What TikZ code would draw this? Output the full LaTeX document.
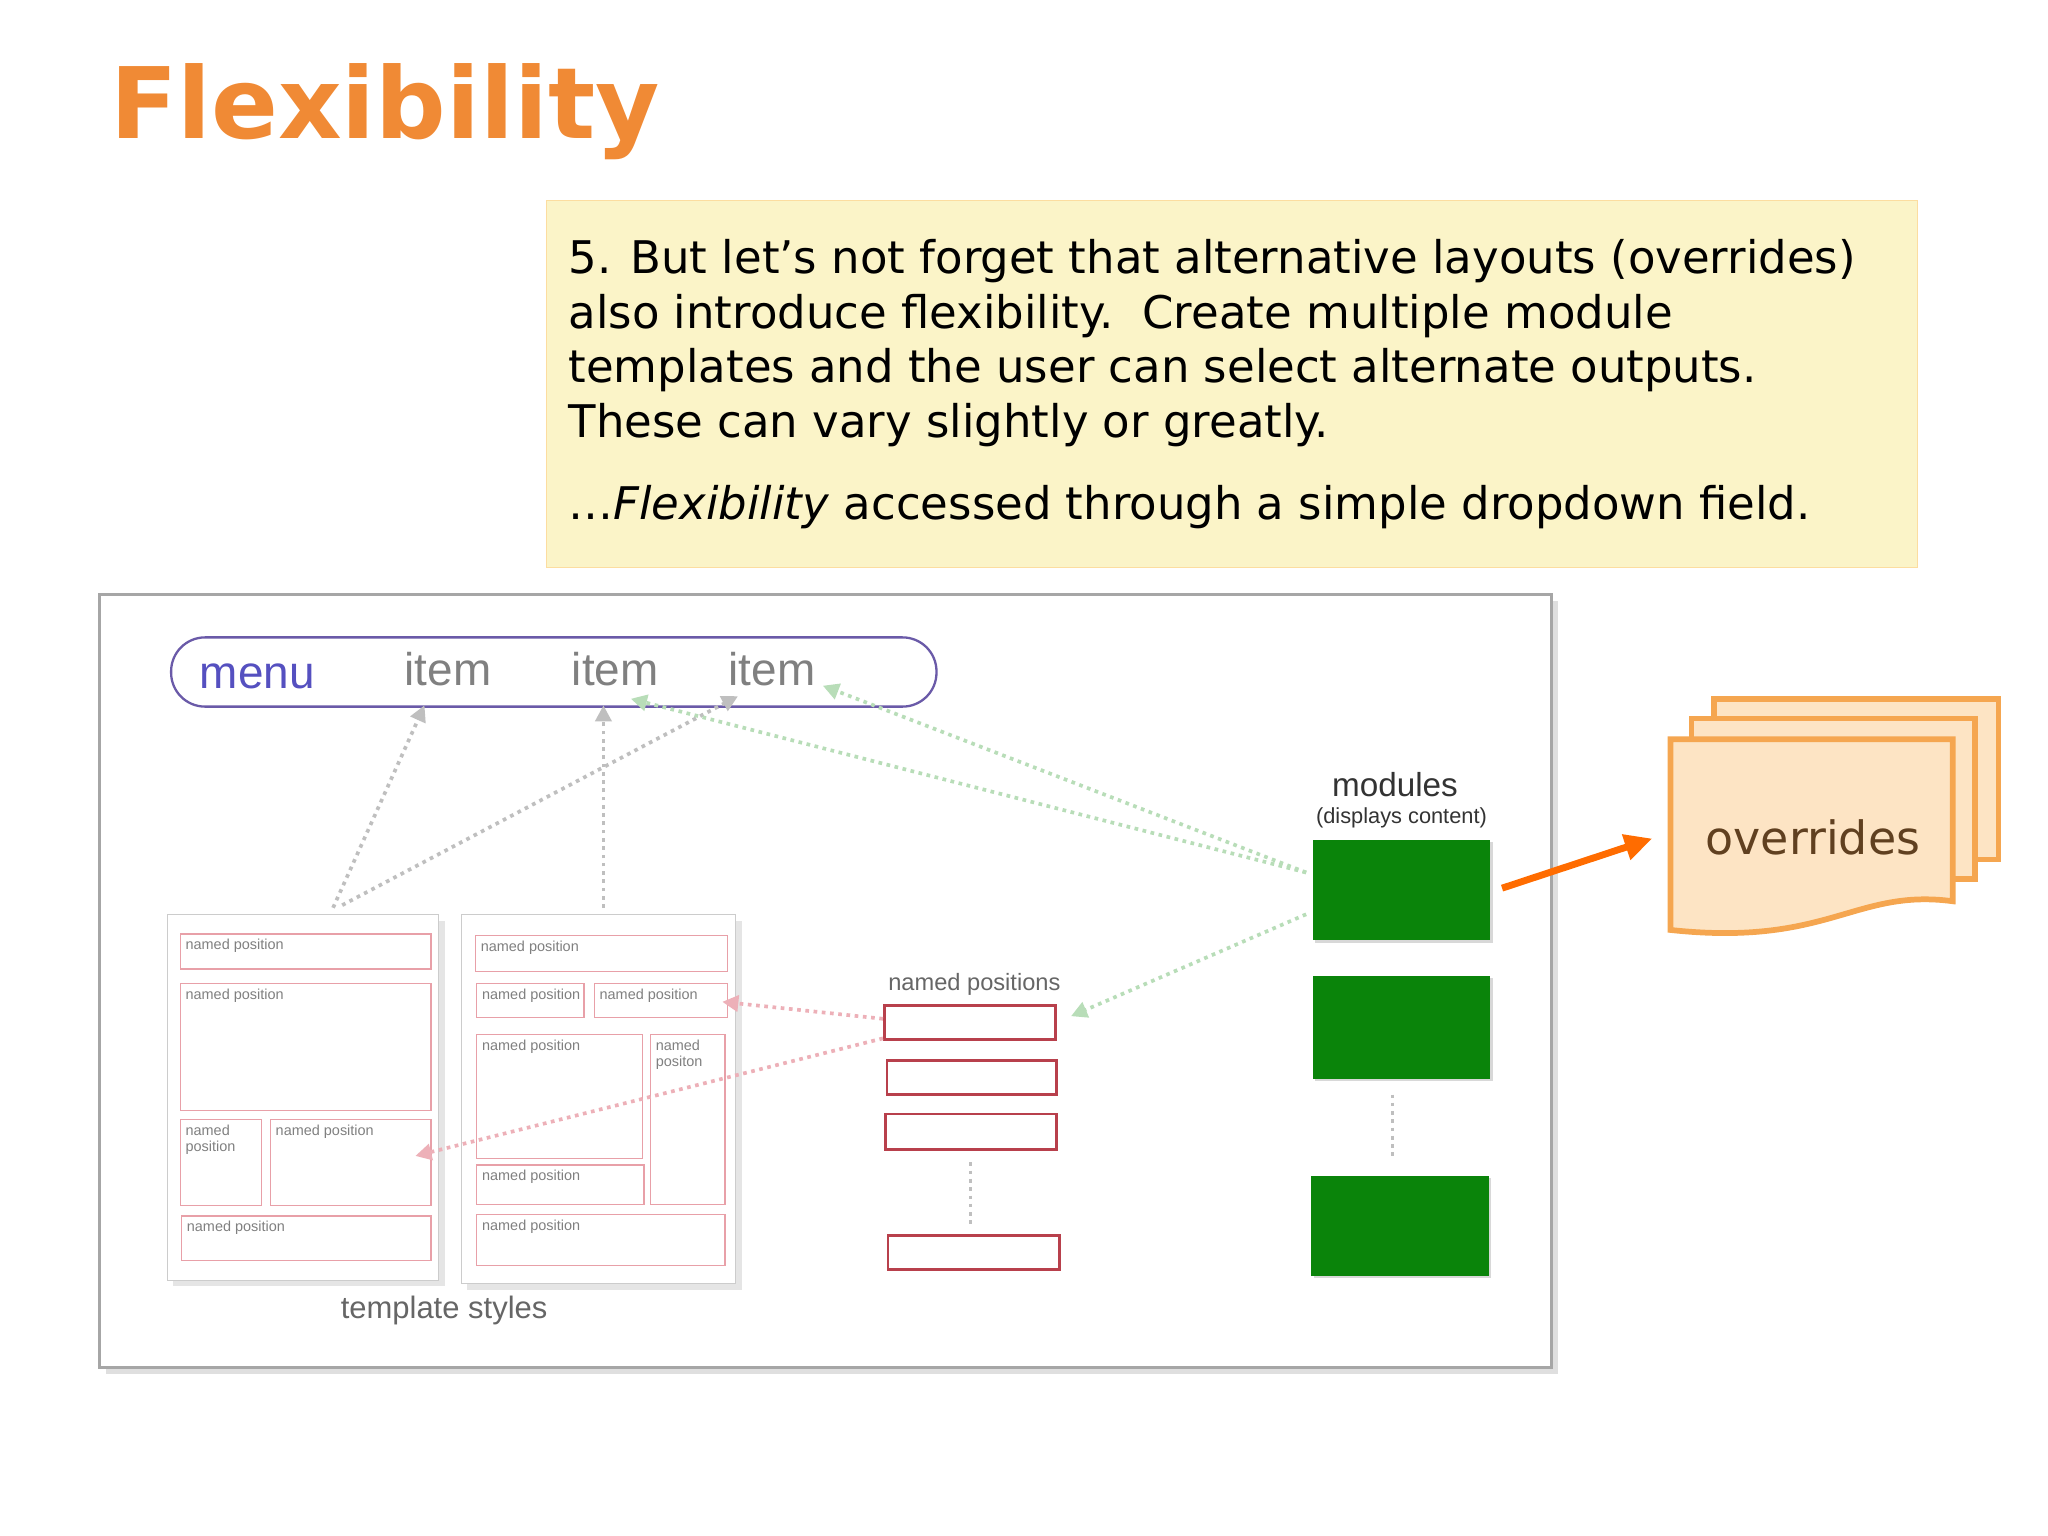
\documentclass[tikz,border=0pt]{standalone}
\usepackage{fontspec}
\setmainfont{DejaVu Sans}
\newfontfamily\arialfont{Liberation Sans}
\usetikzlibrary{arrows.meta,shadows}
\definecolor{titleorange}{HTML}{F08A35}
\definecolor{notefill}{HTML}{FBF4C8}
\definecolor{npred}{HTML}{E8A0A8}
\definecolor{npdark}{HTML}{B8404C}
\definecolor{modgreen}{HTML}{0A840A}
\definecolor{ovborder}{HTML}{F5A650}
\definecolor{ovfill}{HTML}{FDE4C4}
\definecolor{linkgreen}{HTML}{B8DDB8}
\definecolor{linkpink}{HTML}{EDB0B8}
\definecolor{menublue}{HTML}{5550C0}
\definecolor{menuframe}{HTML}{6A5AA8}
\begin{document}
\begin{tikzpicture}[x=0.02cm,y=-0.02cm,
  npos/.style={draw=npred,line width=0.6pt},
  nplabel/.style={font=\arialfont\fontsize{6.3}{7}\selectfont,text=gray,anchor=north west,inner sep=1pt,align=left},
  slot/.style={draw=npdark,line width=1.1pt},
  module/.style={fill=modgreen,draw=none,drop shadow={opacity=0.3,shadow xshift=1pt,shadow yshift=-1pt}},
  page/.style={draw=ovborder,fill=ovfill,line width=2.5pt},
  greylink/.style={draw=gray!50,line width=1.6pt,dotted,-{Triangle[length=7pt,width=7pt]}},
  greenlink/.style={draw=linkgreen,line width=1.6pt,dotted,-{Triangle[length=7pt,width=7pt]}},
  pinklink/.style={draw=linkpink,line width=1.6pt,dotted,-{Triangle[length=7pt,width=7pt]}}]
\useasboundingbox (0,0) rectangle (1568,1176);

% title and note
\node[font=\bfseries\fontsize{43}{48}\selectfont,text=titleorange,anchor=base west,inner sep=0pt] (title) at (84,106) {Flexibility};
\node[draw=notefill!80!orange,fill=notefill,minimum width=1050*0.02cm,minimum height=281*0.02cm,anchor=north west] (note) at (418,153) {};
\node[anchor=north west,inner sep=0pt,font=\fontsize{19.6}{23.8}\selectfont,align=left] (notetext) at (435,183)
 {5. But let’s not forget that alternative layouts (overrides)\\
 also introduce flexibility.\ \ Create multiple module\\
 templates and the user can select alternate outputs.\\
 These can vary slightly or greatly.\\[12pt]
 …\textit{Flexibility} accessed through a simple dropdown field.};

% diagram frame
\draw[draw=gray!70,line width=1.5pt,fill=white,drop shadow={opacity=0.25}] (76,455) rectangle (1188,1047);

% menu
\draw[draw=menuframe,line width=1pt,rounded corners=26*0.02cm] (131,488) rectangle (717,541);
\begin{scope}[font=\arialfont\fontsize{20}{22}\selectfont,anchor=base]
\node[text=menublue] (menu) at (197,527) {menu};
\node[text=gray] (item1) at (343,525) {item};
\node[text=gray] (item2) at (471,525) {item};
\node[text=gray] (item3) at (591,525) {item};
\end{scope}

% template styles
\draw[draw=gray!40,fill=white,drop shadow={opacity=0.2}] (128,700) rectangle (336,980);
\draw[draw=gray!40,fill=white,drop shadow={opacity=0.2}] (353,700) rectangle (563,983);
\foreach \xa/\ya/\xb/\yb/\txt in {138/715/330/742/named position,138/753/330/850/named position,138/857/200/923/named\\position,207/857/330/923/named position,139/931/330/965/named position,
  364/716/557/744/named position,365/753/447/779/named position,455/753/557/779/named position,365/792/492/887/named position,498/792/555/922/named\\positon,365/892/493/922/named position,365/930/555/969/named position}{
  \draw[npos] (\xa,\ya) rectangle (\xb,\yb);
  \node[nplabel] at (\xa+2,\ya+2) {\txt};
}
\node[font=\arialfont\fontsize{13.5}{15}\selectfont,text=gray!80!black] (tstyles) at (340,1003) {template styles};
\coordinate (lefttop) at (255,695);
\coordinate (lefttop2) at (262,693);
\coordinate (righttop) at (462,695);
\coordinate (rnp) at (553,767);
\coordinate (lnp) at (318,885);

% named positions
\node[font=\arialfont\fontsize{10.3}{12}\selectfont,text=gray!80!black] (nplabel) at (746,754) {named positions};
\draw[slot] (677,770) rectangle (808,796);
\draw[slot] (679,812) rectangle (809,838);
\draw[slot] (678,853) rectangle (809,880);
\draw[slot] (680,946) rectangle (811,972);
\draw[gray!50,line width=1.6pt,dotted] (743,890) -- (743,938);
\coordinate (slot1w) at (676,780);
\coordinate (slot1w2) at (676,795);
\coordinate (slot1e) at (820,778);

% modules
\node[font=\arialfont\fontsize{14.5}{16}\selectfont,text=gray!40!black] (modules) at (1068,601) {modules};
\node[font=\arialfont\fontsize{9.5}{11}\selectfont,text=gray!40!black] (displays) at (1073,626) {(displays content)};
\draw[module] (1005,643) rectangle (1141,720);
\draw[module] (1005,747) rectangle (1141,826);
\draw[module] (1004,900) rectangle (1140,977);
\draw[gray!50,line width=1.6pt,dotted] (1066,838) -- (1066,888);
\coordinate (mod1w) at (1000,668);
\coordinate (mod1w2) at (1000,700);
\coordinate (mod1e) at (1150,680);

% overrides
\draw[page] (1312,535) rectangle (1530,658);
\draw[page] (1295,550) rectangle (1512,673);
\draw[page] (1279,566) -- (1495,566) -- (1495,690) .. controls (1420,680) and (1400,725) .. (1279,712) -- cycle;
\node[font=\fontsize{20}{22}\selectfont,text=brown!50!black] (overrides) at (1388,641) {overrides};
\coordinate (ovleft) at (1265,642);

% links
\draw[greylink] (lefttop) -- (325,540);
\draw[greylink] (righttop) -- (462,540);
\draw[greylink] (lefttop2) -- (565,533);
\draw[greenlink] (mod1w) -- (483,535);
\draw[greenlink] (mod1w) -- (630,525);
\draw[greenlink] (mod1w2) -- (slot1e);
\draw[pinklink] (slot1w) -- (rnp);
\draw[pinklink] (slot1w2) -- (lnp);
\draw[draw=orange!85!red,line width=3pt,-{Triangle[length=12pt,width=11pt]}] (mod1e) -- (ovleft);
\end{tikzpicture}
\end{document}
